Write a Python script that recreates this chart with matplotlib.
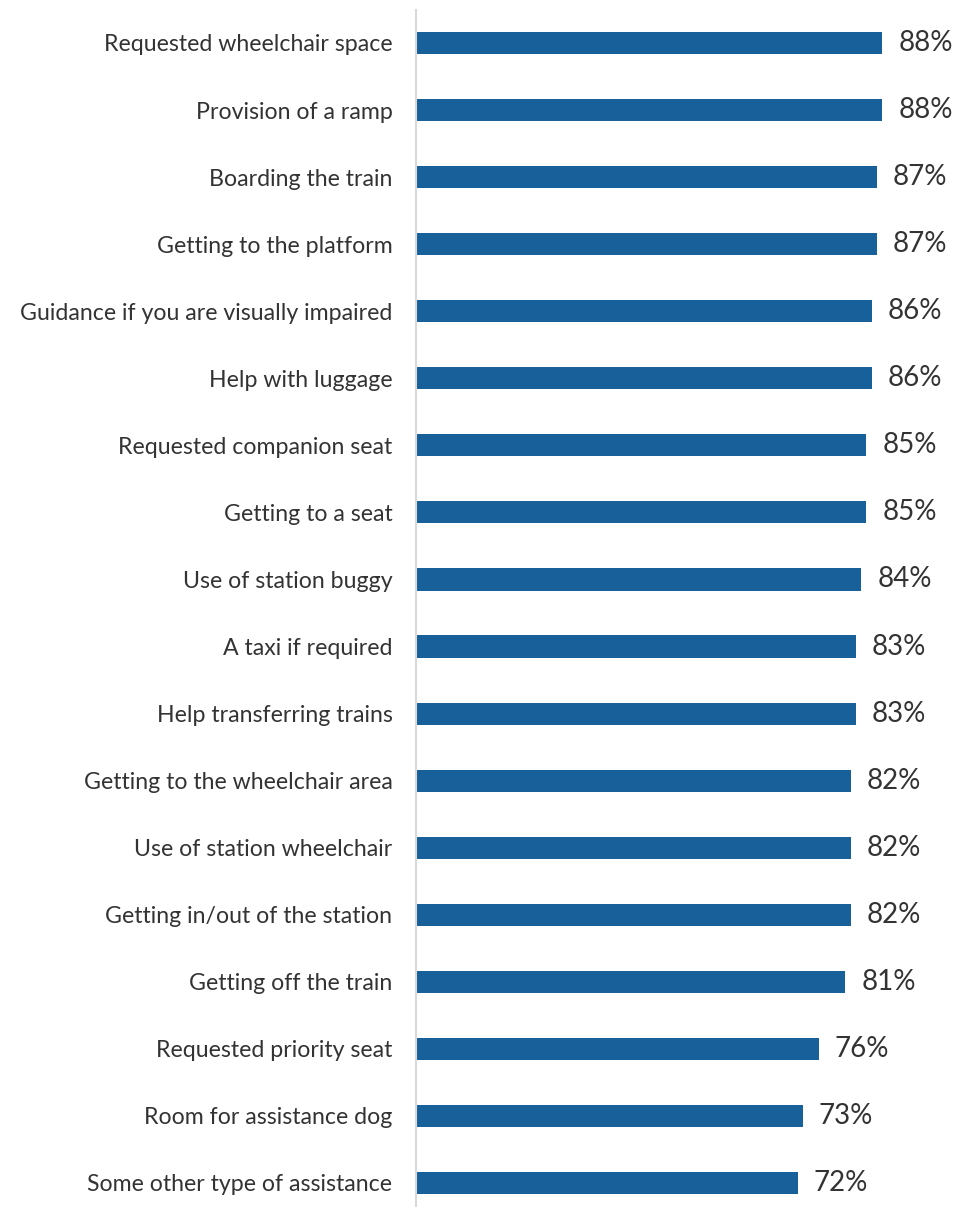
import matplotlib.pyplot as plt

labels = ["Requested wheelchair space", "Provision of a ramp", "Boarding the train",
          "Getting to the platform", "Guidance if you are visually impaired",
          "Help with luggage", "Requested companion seat", "Getting to a seat",
          "Use of station buggy", "A taxi if required", "Help transferring trains",
          "Getting to the wheelchair area", "Use of station wheelchair",
          "Getting in/out of the station", "Getting off the train",
          "Requested priority seat", "Room for assistance dog",
          "Some other type of assistance"]
values = [88, 88, 87, 87, 86, 86, 85, 85, 84, 83, 83, 82, 82, 82, 81, 76, 73, 72]

plt.rcParams['font.family'] = ['Lato', 'DejaVu Sans']

fig = plt.figure(figsize=(9.62, 12.07), dpi=100)
ax = fig.add_axes([416 / 962, 0, 530 / 962, 1 - 10 / 1207])

y = list(range(len(labels)))
ax.barh(y, values, height=0.33, color="#17609A")

for yi, v in zip(y, values):
    ax.annotate(f"{v}%", (v, yi), xytext=(11.5, 0), textcoords="offset points",
                va="center", ha="left", fontsize=20, color="#333333")

ax.set_xlim(0, 100)
ax.set_ylim(17.358, -0.492)
ax.set_yticks(y)
ax.set_yticklabels(labels, fontsize=16.7, color="#333333")
ax.tick_params(axis="y", length=0, pad=17)
ax.set_xticks([])
for s in ["top", "right", "bottom"]:
    ax.spines[s].set_visible(False)
ax.spines["left"].set_color("#D9D9D9")
ax.spines["left"].set_linewidth(1.5)

fig.savefig("out.png", dpi=100)
